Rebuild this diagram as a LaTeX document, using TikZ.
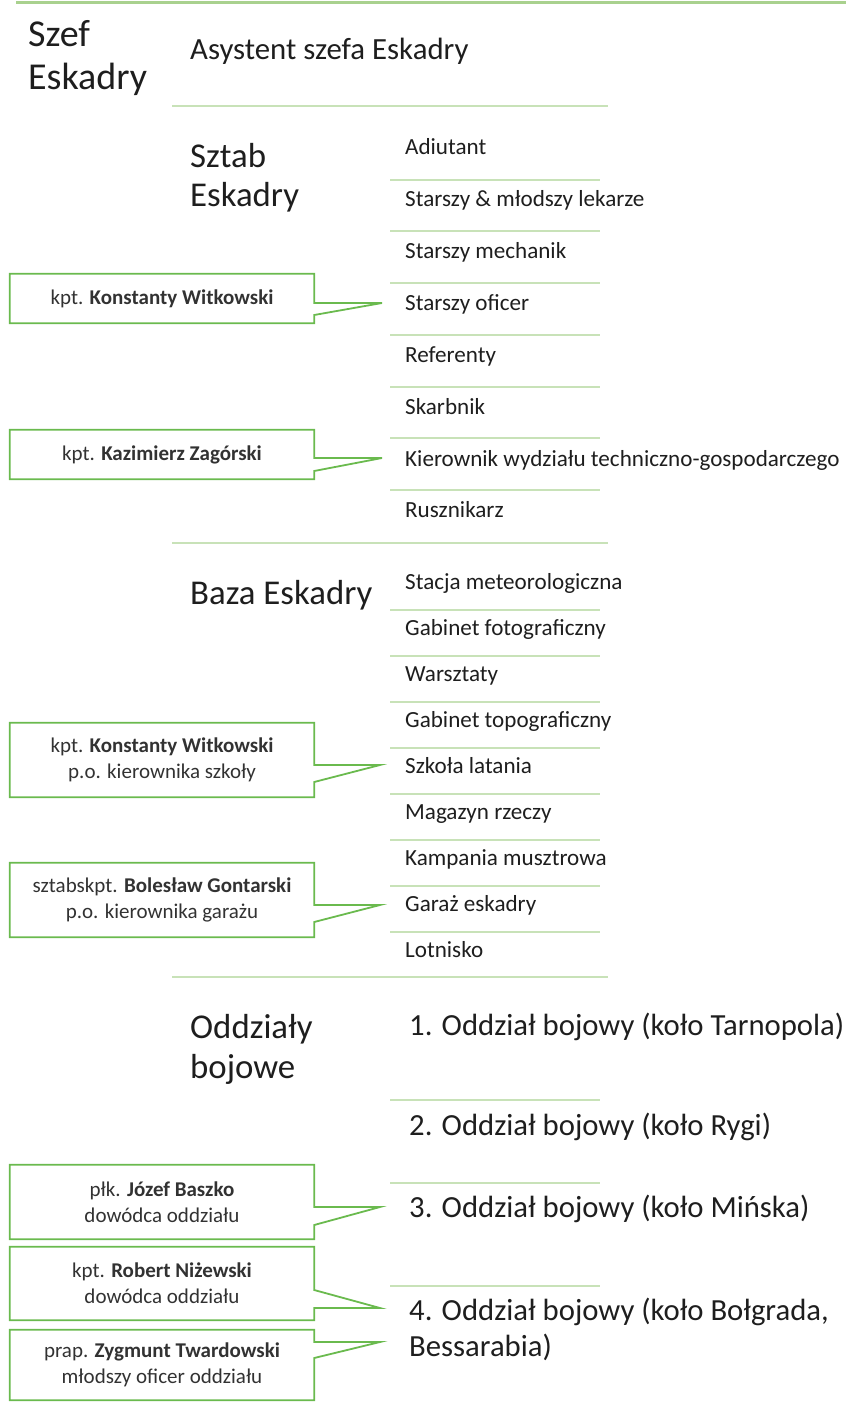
\documentclass[tikz,border=0pt]{standalone}
\usepackage{fontspec}
\setmainfont{Carlito}
\definecolor{topline}{RGB}{169,209,142}
\definecolor{sepc}{RGB}{200,226,184}
\definecolor{boxc}{RGB}{106,186,78}
\definecolor{txt}{RGB}{30,30,30}
\definecolor{btxt}{RGB}{50,50,50}
\tikzset{
  head/.style={anchor=base west,inner sep=0pt,text=txt,font=\fontsize{34.8}{39.5}\selectfont,align=left},
  chief/.style={anchor=base west,inner sep=0pt,text=txt,font=\fontsize{38}{43}\selectfont,align=left},
  asst/.style={anchor=base west,inner sep=0pt,text=txt,font=\fontsize{30.8}{36}\selectfont},
  item/.style={anchor=base west,inner sep=0pt,text=txt,font=\fontsize{23.1}{27}\selectfont},
  unit/.style={anchor=base west,inner sep=0pt,text=txt,font=\fontsize{30.7}{36}\selectfont,align=left},
  cbox/.style={minimum width=304pt,inner sep=0pt,text=btxt,font=\fontsize{21}{26}\selectfont,align=center},
  cline/.style={draw=boxc,line width=1.8pt,line join=miter},
  longsep/.style={draw=sepc,line width=2pt},
  shortsep/.style={draw=sepc,line width=1.6pt},
}
\begin{document}
\begin{tikzpicture}[x=1pt,y=-1pt]
\useasboundingbox (0,0) rectangle (846,1404);
% top line
\draw[draw=topline,line width=3pt] (16,3) -- (846,3);
% heads (base anchor = last line baseline)
\node[chief] (szef) at (28,90) {Szef\\Eskadry};
\node[asst] (asyst) at (190,60) {Asystent szefa Eskadry};
\draw[longsep] (172,106) -- (608,106);
\node[head] (sztab) at (190,207) {Sztab\\Eskadry};
% sztab items
\node[item] (s1) at (405,155) {Adiutant};
\node[item] (s2) at (405,207) {Starszy \& młodszy lekarze};
\node[item] (s3) at (405,259) {Starszy mechanik};
\node[item] (s4) at (405,310) {Starszy oficer};
\node[item] (s5) at (405,362) {Referenty};
\node[item] (s6) at (405,414) {Skarbnik};
\node[item] (s7) at (405,466) {Kierownik wydziału techniczno-gospodarczego};
\node[item] (s8) at (405,517) {Rusznikarz};
\foreach \y in {180,231,283,335,387,438,490} \draw[shortsep] (390,\y) -- (600,\y);
\draw[longsep] (172,543) -- (608,543);
\node[head] (baza) at (190,604) {Baza Eskadry};
\node[item] (b1) at (405,589) {Stacja meteorologiczna};
\node[item] (b2) at (405,635) {Gabinet fotograficzny};
\node[item] (b3) at (405,681) {Warsztaty};
\node[item] (b4) at (405,727) {Gabinet topograficzny};
\node[item] (b5) at (405,773) {Szkoła latania};
\node[item] (b6) at (405,819) {Magazyn rzeczy};
\node[item] (b7) at (405,865) {Kampania musztrowa};
\node[item] (b8) at (405,911) {Garaż eskadry};
\node[item] (b9) at (405,957) {Lotnisko};
\foreach \y in {610,656,702,748,794,840,886,932} \draw[shortsep] (390,\y) -- (600,\y);
\draw[longsep] (172,977) -- (608,977);
\node[head] (odd) at (190,1078) {Oddziały\\bojowe};
\node[unit] (o1) at (409,1035) {1. Oddział bojowy (koło Tarnopola)};
\node[unit] (o2) at (409,1135) {2. Oddział bojowy (koło Rygi)};
\node[unit] (o3) at (409,1217) {3. Oddział bojowy (koło Mińska)};
\node[unit] (o4) at (409,1356) {4. Oddział bojowy (koło Bołgrada,\\Bessarabia)};
\foreach \y in {1100,1183,1286} \draw[shortsep] (390,\y) -- (600,\y);
% callouts
\node[cbox,minimum height=49pt] (c1) at (162,298.5) {kpt. \textbf{Konstanty Witkowski}};
\coordinate (p1) at (382,303);
\draw[cline] (c1.north west) -- (c1.north east) -- (c1.east |- p1) -- (p1) -- ([yshift=-12pt]c1.east |- p1) -- (c1.south east) -- (c1.south west) -- cycle;
\node[cbox,minimum height=49pt] (c2) at (162,454.5) {kpt. \textbf{Kazimierz Zagórski}};
\coordinate (p2) at (382,458);
\draw[cline] (c2.north west) -- (c2.north east) -- (c2.east |- p2) -- (p2) -- ([yshift=-13pt]c2.east |- p2) -- (c2.south east) -- (c2.south west) -- cycle;
\node[cbox,minimum height=74pt] (c3) at (162,760) {kpt. \textbf{Konstanty Witkowski}\\p.o. kierownika szkoły};
\coordinate (p3) at (380,765);
\draw[cline] (c3.north west) -- (c3.north east) -- (c3.east |- p3) -- (p3) -- ([yshift=-17pt]c3.east |- p3) -- (c3.south east) -- (c3.south west) -- cycle;
\node[cbox,minimum height=74pt] (c4) at (162,900) {sztabskpt. \textbf{Bolesław Gontarski}\\p.o. kierownika garażu};
\coordinate (p4) at (380,905);
\draw[cline] (c4.north west) -- (c4.north east) -- (c4.east |- p4) -- (p4) -- ([yshift=-17pt]c4.east |- p4) -- (c4.south east) -- (c4.south west) -- cycle;
\node[cbox,minimum height=74pt] (c5) at (162,1202) {płk. \textbf{Józef Baszko}\\dowódca oddziału};
\coordinate (p5) at (380,1207);
\draw[cline] (c5.north west) -- (c5.north east) -- (c5.east |- p5) -- (p5) -- ([yshift=-18pt]c5.east |- p5) -- (c5.south east) -- (c5.south west) -- cycle;
\node[cbox,minimum height=73pt] (c6) at (162,1283.5) {kpt. \textbf{Robert Niżewski}\\dowódca oddziału};
\coordinate (p6) at (380,1308);
\draw[cline] (c6.north west) -- (c6.north east) -- ([yshift=18pt]c6.east |- p6) -- (p6) -- (c6.east |- p6) -- (c6.south east) -- (c6.south west) -- cycle;
\node[cbox,minimum height=70pt] (c7) at (162,1365) {prap. \textbf{Zygmunt Twardowski}\\młodszy oficer oddziału};
\coordinate (p7) at (380,1342);
\draw[cline] (c7.north west) -- (c7.north east) -- (c7.east |- p7) -- (p7) -- ([yshift=-16pt]c7.east |- p7) -- (c7.south east) -- (c7.south west) -- cycle;
\end{tikzpicture}
\end{document}
